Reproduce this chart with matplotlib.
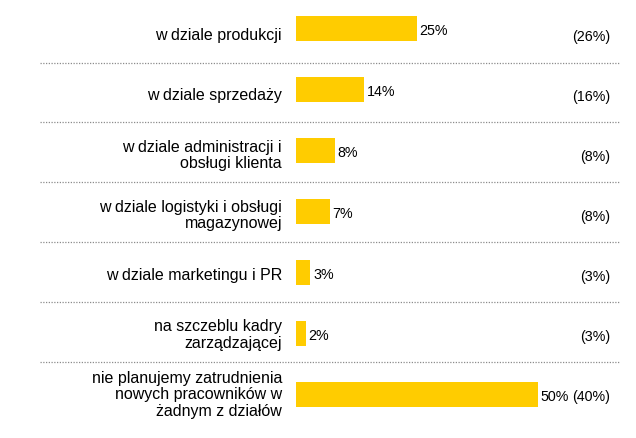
import matplotlib
matplotlib.use("Agg")
import matplotlib.pyplot as plt

plt.rcParams['font.family'] = ['Liberation Sans', 'DejaVu Sans']

# data
categories = [
    "w dziale produkcji",
    "w dziale sprzedaży",
    "w dziale administracji i\nobsługi klienta",
    "w dziale logistyki i obsługi\nmagazynowej",
    "w dziale marketingu i PR",
    "na szczeblu kadry\nzarządzającej",
    "nie planujemy zatrudnienia\nnowych pracowników w\nżadnym z działów",
]
values_now = [25, 14, 8, 7, 3, 2, 50]
values_prev = [26, 16, 8, 8, 3, 3, 40]

W, H = 636, 439
px_per_pct = 4.83      # horizontal scale of the bars
bar_left_px = 296      # where bars start
row0_px, row_step_px = 29, 61     # bar rows
text_step_px = 59.9               # label / separator rows are a bit tighter

fig = plt.figure(figsize=(W / 100, H / 100), dpi=100)
ax = fig.add_axes([0, 0, 1, 1])
ax.set_xlim(-bar_left_px / px_per_pct, (W - bar_left_px) / px_per_pct)
ax.set_ylim((H - row0_px) / row_step_px, -row0_px / row_step_px)
ax.axis("off")


def px_to_row(y_px):
    return (y_px - row0_px) / row_step_px


rows = list(range(len(categories)))
ax.barh(rows, values_now, height=25 / row_step_px, color="#FFCC00", left=0)

for i, (cat, v, p) in enumerate(zip(categories, values_now, values_prev)):
    ax.text(-2.9, px_to_row(35.5 + text_step_px * i), cat, ha="right", va="center",
            fontsize=11.5, linespacing=1.1, color="black")
    ax.text(v + 0.6, i + 0.025, f"{v}%", ha="left", va="center", fontsize=10.3, color="black")
    ax.text(65.0, px_to_row(37.5 + text_step_px * i), f"({p}%)", ha="right", va="center",
            fontsize=10.3, color="black")

# dotted separators between rows
x_start = (40 - bar_left_px) / px_per_pct
x_end = (620 - bar_left_px) / px_per_pct
for k in range(len(categories) - 1):
    y = px_to_row(63.5 + text_step_px * k)
    ax.plot([x_start, x_end], [y, y], color="#8c8c8c", lw=0.9,
            linestyle=(0, (1, 1.2)))

fig.savefig("out.png", dpi=100)
